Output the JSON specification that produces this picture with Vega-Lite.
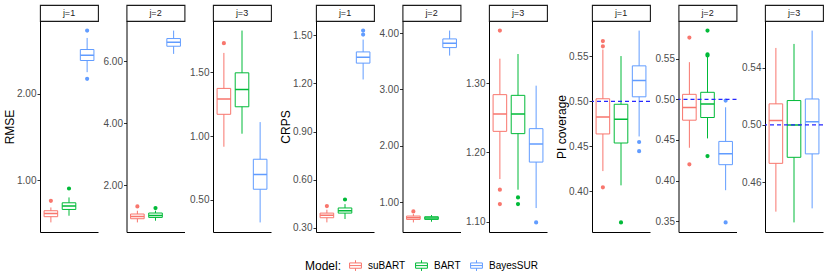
{
"$schema": "https://vega.github.io/schema/vega-lite/v6.json",
"padding": {"left": 3, "top": 4, "right": 2, "bottom": 2},
"spacing": 7,
"datasets": {
"boxes": [
{"metric":"RMSE","j":1,"model":"suBART","lo":0.511,"q1":0.577,"med":0.615,"q3":0.646,"hi":0.684},
{"metric":"RMSE","j":1,"model":"BART","lo":0.588,"q1":0.661,"med":0.700,"q3":0.738,"hi":0.800},
{"metric":"RMSE","j":1,"model":"BayesSUR","lo":2.249,"q1":2.384,"med":2.445,"q3":2.511,"hi":2.645},
{"metric":"RMSE","j":2,"model":"suBART","lo":0.797,"q1":0.916,"med":0.990,"q3":1.068,"hi":1.174},
{"metric":"RMSE","j":2,"model":"BART","lo":0.852,"q1":0.958,"med":1.023,"q3":1.100,"hi":1.174},
{"metric":"RMSE","j":2,"model":"BayesSUR","lo":6.232,"q1":6.479,"med":6.608,"q3":6.727,"hi":6.984},
{"metric":"RMSE","j":3,"model":"suBART","lo":0.916,"q1":1.170,"med":1.289,"q3":1.373,"hi":1.651},
{"metric":"RMSE","j":3,"model":"BART","lo":1.018,"q1":1.229,"med":1.365,"q3":1.495,"hi":1.826},
{"metric":"RMSE","j":3,"model":"BayesSUR","lo":0.323,"q1":0.583,"med":0.698,"q3":0.818,"hi":1.109},
{"metric":"CRPS","j":1,"model":"suBART","lo":0.333,"q1":0.362,"med":0.377,"q3":0.391,"hi":0.412},
{"metric":"CRPS","j":1,"model":"BART","lo":0.354,"q1":0.391,"med":0.406,"q3":0.423,"hi":0.447},
{"metric":"CRPS","j":1,"model":"BayesSUR","lo":1.225,"q1":1.327,"med":1.364,"q3":1.397,"hi":1.474},
{"metric":"CRPS","j":2,"model":"suBART","lo":0.638,"q1":0.691,"med":0.721,"q3":0.751,"hi":0.787},
{"metric":"CRPS","j":2,"model":"BART","lo":0.650,"q1":0.691,"med":0.716,"q3":0.739,"hi":0.769},
{"metric":"CRPS","j":2,"model":"BayesSUR","lo":3.599,"q1":3.741,"med":3.817,"q3":3.895,"hi":4.043},
{"metric":"CRPS","j":3,"model":"suBART","lo":1.1616,"q1":1.2305,"med":1.2555,"q3":1.2835,"hi":1.3355},
{"metric":"CRPS","j":3,"model":"BART","lo":1.1462,"q1":1.2272,"med":1.2555,"q3":1.2825,"hi":1.3422},
{"metric":"CRPS","j":3,"model":"BayesSUR","lo":1.1197,"q1":1.1861,"med":1.2121,"q3":1.2344,"hi":1.2965},
{"metric":"PI","j":1,"model":"suBART","lo":0.4222,"q1":0.4636,"med":0.4826,"q3":0.5028,"hi":0.5577},
{"metric":"PI","j":1,"model":"BART","lo":0.4063,"q1":0.4535,"med":0.4800,"q3":0.4967,"hi":0.5504},
{"metric":"PI","j":1,"model":"BayesSUR","lo":0.4608,"q1":0.5050,"med":0.5232,"q3":0.5395,"hi":0.5788},
{"metric":"PI","j":2,"model":"suBART","lo":0.4404,"q1":0.4743,"med":0.4898,"q3":0.5061,"hi":0.5457},
{"metric":"PI","j":2,"model":"BART","lo":0.4519,"q1":0.4776,"med":0.4943,"q3":0.5086,"hi":0.5526},
{"metric":"PI","j":2,"model":"BayesSUR","lo":0.3882,"q1":0.4196,"med":0.4330,"q3":0.4482,"hi":0.4902},
{"metric":"PI","j":3,"model":"suBART","lo":0.4395,"q1":0.4732,"med":0.5030,"q3":0.5147,"hi":0.5537},
{"metric":"PI","j":3,"model":"BART","lo":0.4320,"q1":0.4774,"med":0.5000,"q3":0.5170,"hi":0.5565},
{"metric":"PI","j":3,"model":"BayesSUR","lo":0.4418,"q1":0.4798,"med":0.5023,"q3":0.5181,"hi":0.5658}
],
"outliers": [
{"metric":"RMSE","j":1,"model":"suBART","v":0.761},
{"metric":"RMSE","j":1,"model":"BART","v":0.903},
{"metric":"RMSE","j":1,"model":"BayesSUR","v":2.730},
{"metric":"RMSE","j":1,"model":"BayesSUR","v":2.172},
{"metric":"RMSE","j":2,"model":"suBART","v":1.312},
{"metric":"RMSE","j":2,"model":"BART","v":1.26},
{"metric":"RMSE","j":3,"model":"suBART","v":1.727},
{"metric":"CRPS","j":1,"model":"suBART","v":0.435},
{"metric":"CRPS","j":1,"model":"BART","v":0.476},
{"metric":"CRPS","j":1,"model":"BayesSUR","v":1.530},
{"metric":"CRPS","j":1,"model":"BayesSUR","v":1.505},
{"metric":"CRPS","j":2,"model":"suBART","v":0.833},
{"metric":"CRPS","j":3,"model":"suBART","v":1.376},
{"metric":"CRPS","j":3,"model":"suBART","v":1.1462},
{"metric":"CRPS","j":3,"model":"suBART","v":1.1254},
{"metric":"CRPS","j":3,"model":"BART","v":1.1351},
{"metric":"CRPS","j":3,"model":"BART","v":1.1254},
{"metric":"CRPS","j":3,"model":"BayesSUR","v":1.099},
{"metric":"PI","j":1,"model":"suBART","v":0.5671},
{"metric":"PI","j":1,"model":"suBART","v":0.5613},
{"metric":"PI","j":1,"model":"suBART","v":0.4041},
{"metric":"PI","j":1,"model":"BART","v":0.365},
{"metric":"PI","j":1,"model":"BayesSUR","v":0.4546},
{"metric":"PI","j":1,"model":"BayesSUR","v":0.4444},
{"metric":"PI","j":2,"model":"suBART","v":0.5759},
{"metric":"PI","j":2,"model":"suBART","v":0.4200},
{"metric":"PI","j":2,"model":"BART","v":0.5845},
{"metric":"PI","j":2,"model":"BART","v":0.5554},
{"metric":"PI","j":2,"model":"BART","v":0.5539},
{"metric":"PI","j":2,"model":"BART","v":0.4302},
{"metric":"PI","j":2,"model":"BayesSUR","v":0.4984},
{"metric":"PI","j":2,"model":"BayesSUR","v":0.3486}
],
"ref": [{"target": 0.5}]
},
"hconcat": [
{"concat": [
 {"width":58,"height":16,"data":{"values":[{"label":"j=1"}]},"mark":{"type":"text"},"encoding":{"text":{"field":"label"}},"view":{"stroke":"#1A1A1A","strokeWidth":1.1,"fill":"white"}},
 {"width":58,"height":16,"data":{"values":[{"label":"j=2"}]},"mark":{"type":"text"},"encoding":{"text":{"field":"label"}},"view":{"stroke":"#1A1A1A","strokeWidth":1.1,"fill":"white"}},
 {"width":58,"height":16,"data":{"values":[{"label":"j=3"}]},"mark":{"type":"text"},"encoding":{"text":{"field":"label"}},"view":{"stroke":"#1A1A1A","strokeWidth":1.1,"fill":"white"}},
 {"width":58,"height":211,"layer":[
  {"data":{"name":"boxes"},"transform":[{"filter":"datum.metric=='RMSE' && datum.j==1"}],
   "encoding":{"x":{"field":"model","type":"nominal","scale":{"domain":["suBART","BART","BayesSUR"],"paddingInner":0,"paddingOuter":0.1},"axis":{"labels":false,"ticks":false,"title":null}},
    "color":{"field":"model","type":"nominal","scale":{"domain":["suBART","BART","BayesSUR"],"range":["#F8766D","#00BA38","#619CFF"]},"legend":{"title":"Model:"}}},
   "layer":[
    {"mark":{"type":"rule","strokeWidth":1},"encoding":{"y":{"field":"lo","type":"quantitative","scale":{"domain":[0.40,2.841],"nice":false,"zero":false},"axis":{"title":"RMSE","values":[1,2],"format":".2f"}},"y2":{"field":"q1"}}},
    {"mark":{"type":"rule","strokeWidth":1},"encoding":{"y":{"field":"q3","type":"quantitative"},"y2":{"field":"hi"}}},
    {"mark":{"type":"bar","filled":false,"strokeWidth":1,"width":{"band":0.75}},"encoding":{"y":{"field":"q1","type":"quantitative"},"y2":{"field":"q3"}}},
    {"mark":{"type":"bar","filled":false,"strokeWidth":1.5,"width":{"band":0.75}},"encoding":{"y":{"field":"med","type":"quantitative"},"y2":{"field":"med"}}}
   ]},
  {"data":{"name":"outliers"},"transform":[{"filter":"datum.metric=='RMSE' && datum.j==1"}],"mark":{"type":"point","shape":"circle","filled":false,"size":4,"strokeWidth":2.2,"opacity":1},
   "encoding":{"x":{"field":"model","type":"nominal","scale":{"domain":["suBART","BART","BayesSUR"]}},"y":{"field":"v","type":"quantitative"},
    "color":{"field":"model","type":"nominal","scale":{"domain":["suBART","BART","BayesSUR"]}}}}
 ]},
 {"width":58,"height":211,"layer":[
  {"data":{"name":"boxes"},"transform":[{"filter":"datum.metric=='RMSE' && datum.j==2"}],
   "encoding":{"x":{"field":"model","type":"nominal","scale":{"domain":["suBART","BART","BayesSUR"],"paddingInner":0,"paddingOuter":0.1},"axis":{"labels":false,"ticks":false,"title":null}},
    "color":{"field":"model","type":"nominal","scale":{"domain":["suBART","BART","BayesSUR"]}}},
   "layer":[
    {"mark":{"type":"rule","strokeWidth":1},"encoding":{"y":{"field":"lo","type":"quantitative","scale":{"domain":[0.488,7.293],"nice":false,"zero":false},"axis":{"title":null,"values":[2,4,6],"format":".2f"}},"y2":{"field":"q1"}}},
    {"mark":{"type":"rule","strokeWidth":1},"encoding":{"y":{"field":"q3","type":"quantitative"},"y2":{"field":"hi"}}},
    {"mark":{"type":"bar","filled":false,"strokeWidth":1,"width":{"band":0.75}},"encoding":{"y":{"field":"q1","type":"quantitative"},"y2":{"field":"q3"}}},
    {"mark":{"type":"bar","filled":false,"strokeWidth":1.5,"width":{"band":0.75}},"encoding":{"y":{"field":"med","type":"quantitative"},"y2":{"field":"med"}}}
   ]},
  {"data":{"name":"outliers"},"transform":[{"filter":"datum.metric=='RMSE' && datum.j==2"}],"mark":{"type":"point","shape":"circle","filled":false,"size":4,"strokeWidth":2.2,"opacity":1},
   "encoding":{"x":{"field":"model","type":"nominal","scale":{"domain":["suBART","BART","BayesSUR"]}},"y":{"field":"v","type":"quantitative"},
    "color":{"field":"model","type":"nominal","scale":{"domain":["suBART","BART","BayesSUR"]}}}}
 ]},
 {"width":58,"height":211,"layer":[
  {"data":{"name":"boxes"},"transform":[{"filter":"datum.metric=='RMSE' && datum.j==3"}],
   "encoding":{"x":{"field":"model","type":"nominal","scale":{"domain":["suBART","BART","BayesSUR"],"paddingInner":0,"paddingOuter":0.1},"axis":{"labels":false,"ticks":false,"title":null}},
    "color":{"field":"model","type":"nominal","scale":{"domain":["suBART","BART","BayesSUR"]}}},
   "layer":[
    {"mark":{"type":"rule","strokeWidth":1},"encoding":{"y":{"field":"lo","type":"quantitative","scale":{"domain":[0.248,1.901],"nice":false,"zero":false},"axis":{"title":null,"values":[0.5,1,1.5],"format":".2f"}},"y2":{"field":"q1"}}},
    {"mark":{"type":"rule","strokeWidth":1},"encoding":{"y":{"field":"q3","type":"quantitative"},"y2":{"field":"hi"}}},
    {"mark":{"type":"bar","filled":false,"strokeWidth":1,"width":{"band":0.75}},"encoding":{"y":{"field":"q1","type":"quantitative"},"y2":{"field":"q3"}}},
    {"mark":{"type":"bar","filled":false,"strokeWidth":1.5,"width":{"band":0.75}},"encoding":{"y":{"field":"med","type":"quantitative"},"y2":{"field":"med"}}}
   ]},
  {"data":{"name":"outliers"},"transform":[{"filter":"datum.metric=='RMSE' && datum.j==3"}],"mark":{"type":"point","shape":"circle","filled":false,"size":4,"strokeWidth":2.2,"opacity":1},
   "encoding":{"x":{"field":"model","type":"nominal","scale":{"domain":["suBART","BART","BayesSUR"]}},"y":{"field":"v","type":"quantitative"},
    "color":{"field":"model","type":"nominal","scale":{"domain":["suBART","BART","BayesSUR"]}}}}
 ]}
], "columns": 3, "spacing": {"row": 0, "column": 28.5}, "bounds": "flush"},
{"concat": [
 {"width":58,"height":16,"data":{"values":[{"label":"j=1"}]},"mark":{"type":"text"},"encoding":{"text":{"field":"label"}},"view":{"stroke":"#1A1A1A","strokeWidth":1.1,"fill":"white"}},
 {"width":58,"height":16,"data":{"values":[{"label":"j=2"}]},"mark":{"type":"text"},"encoding":{"text":{"field":"label"}},"view":{"stroke":"#1A1A1A","strokeWidth":1.1,"fill":"white"}},
 {"width":58,"height":16,"data":{"values":[{"label":"j=3"}]},"mark":{"type":"text"},"encoding":{"text":{"field":"label"}},"view":{"stroke":"#1A1A1A","strokeWidth":1.1,"fill":"white"}},
 {"width":58,"height":211,"layer":[
  {"data":{"name":"boxes"},"transform":[{"filter":"datum.metric=='CRPS' && datum.j==1"}],
   "encoding":{"x":{"field":"model","type":"nominal","scale":{"domain":["suBART","BART","BayesSUR"],"paddingInner":0,"paddingOuter":0.1},"axis":{"labels":false,"ticks":false,"title":null}},
    "color":{"field":"model","type":"nominal","scale":{"domain":["suBART","BART","BayesSUR"]}}},
   "layer":[
    {"mark":{"type":"rule","strokeWidth":1},"encoding":{"y":{"field":"lo","type":"quantitative","scale":{"domain":[0.273,1.590],"nice":false,"zero":false},"axis":{"title":"CRPS","values":[0.3,0.6,0.9,1.2,1.5],"format":".2f"}},"y2":{"field":"q1"}}},
    {"mark":{"type":"rule","strokeWidth":1},"encoding":{"y":{"field":"q3","type":"quantitative"},"y2":{"field":"hi"}}},
    {"mark":{"type":"bar","filled":false,"strokeWidth":1,"width":{"band":0.75}},"encoding":{"y":{"field":"q1","type":"quantitative"},"y2":{"field":"q3"}}},
    {"mark":{"type":"bar","filled":false,"strokeWidth":1.5,"width":{"band":0.75}},"encoding":{"y":{"field":"med","type":"quantitative"},"y2":{"field":"med"}}}
   ]},
  {"data":{"name":"outliers"},"transform":[{"filter":"datum.metric=='CRPS' && datum.j==1"}],"mark":{"type":"point","shape":"circle","filled":false,"size":4,"strokeWidth":2.2,"opacity":1},
   "encoding":{"x":{"field":"model","type":"nominal","scale":{"domain":["suBART","BART","BayesSUR"]}},"y":{"field":"v","type":"quantitative"},
    "color":{"field":"model","type":"nominal","scale":{"domain":["suBART","BART","BayesSUR"]}}}}
 ]},
 {"width":58,"height":211,"layer":[
  {"data":{"name":"boxes"},"transform":[{"filter":"datum.metric=='CRPS' && datum.j==2"}],
   "encoding":{"x":{"field":"model","type":"nominal","scale":{"domain":["suBART","BART","BayesSUR"],"paddingInner":0,"paddingOuter":0.1},"axis":{"labels":false,"ticks":false,"title":null}},
    "color":{"field":"model","type":"nominal","scale":{"domain":["suBART","BART","BayesSUR"]}}},
   "layer":[
    {"mark":{"type":"rule","strokeWidth":1},"encoding":{"y":{"field":"lo","type":"quantitative","scale":{"domain":[0.468,4.213],"nice":false,"zero":false},"axis":{"title":null,"values":[1,2,3,4],"format":".2f"}},"y2":{"field":"q1"}}},
    {"mark":{"type":"rule","strokeWidth":1},"encoding":{"y":{"field":"q3","type":"quantitative"},"y2":{"field":"hi"}}},
    {"mark":{"type":"bar","filled":false,"strokeWidth":1,"width":{"band":0.75}},"encoding":{"y":{"field":"q1","type":"quantitative"},"y2":{"field":"q3"}}},
    {"mark":{"type":"bar","filled":false,"strokeWidth":1.5,"width":{"band":0.75}},"encoding":{"y":{"field":"med","type":"quantitative"},"y2":{"field":"med"}}}
   ]},
  {"data":{"name":"outliers"},"transform":[{"filter":"datum.metric=='CRPS' && datum.j==2"}],"mark":{"type":"point","shape":"circle","filled":false,"size":4,"strokeWidth":2.2,"opacity":1},
   "encoding":{"x":{"field":"model","type":"nominal","scale":{"domain":["suBART","BART","BayesSUR"]}},"y":{"field":"v","type":"quantitative"},
    "color":{"field":"model","type":"nominal","scale":{"domain":["suBART","BART","BayesSUR"]}}}}
 ]},
 {"width":58,"height":211,"layer":[
  {"data":{"name":"boxes"},"transform":[{"filter":"datum.metric=='CRPS' && datum.j==3"}],
   "encoding":{"x":{"field":"model","type":"nominal","scale":{"domain":["suBART","BART","BayesSUR"],"paddingInner":0,"paddingOuter":0.1},"axis":{"labels":false,"ticks":false,"title":null}},
    "color":{"field":"model","type":"nominal","scale":{"domain":["suBART","BART","BayesSUR"]}}},
   "layer":[
    {"mark":{"type":"rule","strokeWidth":1},"encoding":{"y":{"field":"lo","type":"quantitative","scale":{"domain":[1.0851,1.3899],"nice":false,"zero":false},"axis":{"title":null,"values":[1.1,1.2,1.3],"format":".2f"}},"y2":{"field":"q1"}}},
    {"mark":{"type":"rule","strokeWidth":1},"encoding":{"y":{"field":"q3","type":"quantitative"},"y2":{"field":"hi"}}},
    {"mark":{"type":"bar","filled":false,"strokeWidth":1,"width":{"band":0.75}},"encoding":{"y":{"field":"q1","type":"quantitative"},"y2":{"field":"q3"}}},
    {"mark":{"type":"bar","filled":false,"strokeWidth":1.5,"width":{"band":0.75}},"encoding":{"y":{"field":"med","type":"quantitative"},"y2":{"field":"med"}}}
   ]},
  {"data":{"name":"outliers"},"transform":[{"filter":"datum.metric=='CRPS' && datum.j==3"}],"mark":{"type":"point","shape":"circle","filled":false,"size":4,"strokeWidth":2.2,"opacity":1},
   "encoding":{"x":{"field":"model","type":"nominal","scale":{"domain":["suBART","BART","BayesSUR"]}},"y":{"field":"v","type":"quantitative"},
    "color":{"field":"model","type":"nominal","scale":{"domain":["suBART","BART","BayesSUR"]}}}}
 ]}
], "columns": 3, "spacing": {"row": 0, "column": 28.5}, "bounds": "flush"},
{"concat": [
 {"width":58,"height":16,"data":{"values":[{"label":"j=1"}]},"mark":{"type":"text"},"encoding":{"text":{"field":"label"}},"view":{"stroke":"#1A1A1A","strokeWidth":1.1,"fill":"white"}},
 {"width":58,"height":16,"data":{"values":[{"label":"j=2"}]},"mark":{"type":"text"},"encoding":{"text":{"field":"label"}},"view":{"stroke":"#1A1A1A","strokeWidth":1.1,"fill":"white"}},
 {"width":58,"height":16,"data":{"values":[{"label":"j=3"}]},"mark":{"type":"text"},"encoding":{"text":{"field":"label"}},"view":{"stroke":"#1A1A1A","strokeWidth":1.1,"fill":"white"}},
 {"width":58,"height":211,"layer":[
  {"data":{"name":"boxes"},"transform":[{"filter":"datum.metric=='PI' && datum.j==1"}],
   "encoding":{"x":{"field":"model","type":"nominal","scale":{"domain":["suBART","BART","BayesSUR"],"paddingInner":0,"paddingOuter":0.1},"axis":{"labels":false,"ticks":false,"title":null}},
    "color":{"field":"model","type":"nominal","scale":{"domain":["suBART","BART","BayesSUR"]}}},
   "layer":[
    {"mark":{"type":"rule","strokeWidth":1},"encoding":{"y":{"field":"lo","type":"quantitative","scale":{"domain":[0.3543,0.5895],"nice":false,"zero":false},"axis":{"title":"PI coverage","values":[0.4,0.45,0.5,0.55],"format":".2f"}},"y2":{"field":"q1"}}},
    {"mark":{"type":"rule","strokeWidth":1},"encoding":{"y":{"field":"q3","type":"quantitative"},"y2":{"field":"hi"}}},
    {"mark":{"type":"bar","filled":false,"strokeWidth":1,"width":{"band":0.75}},"encoding":{"y":{"field":"q1","type":"quantitative"},"y2":{"field":"q3"}}},
    {"mark":{"type":"bar","filled":false,"strokeWidth":1.5,"width":{"band":0.75}},"encoding":{"y":{"field":"med","type":"quantitative"},"y2":{"field":"med"}}}
   ]},
  {"data":{"name":"outliers"},"transform":[{"filter":"datum.metric=='PI' && datum.j==1"}],"mark":{"type":"point","shape":"circle","filled":false,"size":4,"strokeWidth":2.2,"opacity":1},
   "encoding":{"x":{"field":"model","type":"nominal","scale":{"domain":["suBART","BART","BayesSUR"]}},"y":{"field":"v","type":"quantitative"},
    "color":{"field":"model","type":"nominal","scale":{"domain":["suBART","BART","BayesSUR"]}}}},
  {"data":{"name":"ref"},"mark":{"type":"rule","stroke":"#2626FF","strokeWidth":1.2,"strokeDash":[4,3]},"encoding":{"y":{"field":"target","type":"quantitative"}}}
 ]},
 {"width":58,"height":211,"layer":[
  {"data":{"name":"boxes"},"transform":[{"filter":"datum.metric=='PI' && datum.j==2"}],
   "encoding":{"x":{"field":"model","type":"nominal","scale":{"domain":["suBART","BART","BayesSUR"],"paddingInner":0,"paddingOuter":0.1},"axis":{"labels":false,"ticks":false,"title":null}},
    "color":{"field":"model","type":"nominal","scale":{"domain":["suBART","BART","BayesSUR"]}}},
   "layer":[
    {"mark":{"type":"rule","strokeWidth":1},"encoding":{"y":{"field":"lo","type":"quantitative","scale":{"domain":[0.3368,0.5963],"nice":false,"zero":false},"axis":{"title":null,"values":[0.35,0.4,0.45,0.5,0.55],"format":".2f"}},"y2":{"field":"q1"}}},
    {"mark":{"type":"rule","strokeWidth":1},"encoding":{"y":{"field":"q3","type":"quantitative"},"y2":{"field":"hi"}}},
    {"mark":{"type":"bar","filled":false,"strokeWidth":1,"width":{"band":0.75}},"encoding":{"y":{"field":"q1","type":"quantitative"},"y2":{"field":"q3"}}},
    {"mark":{"type":"bar","filled":false,"strokeWidth":1.5,"width":{"band":0.75}},"encoding":{"y":{"field":"med","type":"quantitative"},"y2":{"field":"med"}}}
   ]},
  {"data":{"name":"outliers"},"transform":[{"filter":"datum.metric=='PI' && datum.j==2"}],"mark":{"type":"point","shape":"circle","filled":false,"size":4,"strokeWidth":2.2,"opacity":1},
   "encoding":{"x":{"field":"model","type":"nominal","scale":{"domain":["suBART","BART","BayesSUR"]}},"y":{"field":"v","type":"quantitative"},
    "color":{"field":"model","type":"nominal","scale":{"domain":["suBART","BART","BayesSUR"]}}}},
  {"data":{"name":"ref"},"mark":{"type":"rule","stroke":"#2626FF","strokeWidth":1.2,"strokeDash":[4,3]},"encoding":{"y":{"field":"target","type":"quantitative"}}}
 ]},
 {"width":58,"height":211,"layer":[
  {"data":{"name":"boxes"},"transform":[{"filter":"datum.metric=='PI' && datum.j==3"}],
   "encoding":{"x":{"field":"model","type":"nominal","scale":{"domain":["suBART","BART","BayesSUR"],"paddingInner":0,"paddingOuter":0.1},"axis":{"labels":false,"ticks":false,"title":null}},
    "color":{"field":"model","type":"nominal","scale":{"domain":["suBART","BART","BayesSUR"]}}},
   "layer":[
    {"mark":{"type":"rule","strokeWidth":1},"encoding":{"y":{"field":"lo","type":"quantitative","scale":{"domain":[0.4253,0.5725],"nice":false,"zero":false},"axis":{"title":null,"values":[0.46,0.5,0.54],"format":".2f"}},"y2":{"field":"q1"}}},
    {"mark":{"type":"rule","strokeWidth":1},"encoding":{"y":{"field":"q3","type":"quantitative"},"y2":{"field":"hi"}}},
    {"mark":{"type":"bar","filled":false,"strokeWidth":1,"width":{"band":0.75}},"encoding":{"y":{"field":"q1","type":"quantitative"},"y2":{"field":"q3"}}},
    {"mark":{"type":"bar","filled":false,"strokeWidth":1.5,"width":{"band":0.75}},"encoding":{"y":{"field":"med","type":"quantitative"},"y2":{"field":"med"}}}
   ]},
  {"data":{"name":"ref"},"mark":{"type":"rule","stroke":"#2626FF","strokeWidth":1.2,"strokeDash":[4,3]},"encoding":{"y":{"field":"target","type":"quantitative"}}}
 ]}
], "columns": 3, "spacing": {"row": 0, "column": 28.5}, "bounds": "flush"}
],
"resolve": {"scale": {"color": "shared"}},
"config": {
 "font": "Liberation Sans",
 "view": {"stroke": null},
 "text": {"fontSize": 9, "color": "#1A1A1A"},
 "axis": {"grid": false, "domainColor": "#000000", "domainWidth": 1, "tickColor": "#333333", "tickSize": 3, "tickWidth": 1,
   "labelColor": "#4D4D4D", "labelFontSize": 10, "labelPadding": 1, "titleFontSize": 12, "titleFontWeight": "normal", "titleColor": "#000000", "titlePadding": 0},
 "legend": {"orient": "none", "legendX": 265, "legendY": 254, "direction": "horizontal", "titleOrient": "left",
   "titleFontSize": 12, "titleFontWeight": "normal", "titleColor": "#000000", "labelFontSize": 10, "labelColor": "#000000",
   "symbolType": "M-1,-0.45H1V0.45H-1Z M-1,0H1 M0,-0.45V-0.9 M0,0.45V0.9", "symbolSize": 140, "symbolStrokeWidth": 1,
   "columnPadding": 7, "labelOffset": 6, "titlePadding": 7}
}
}
